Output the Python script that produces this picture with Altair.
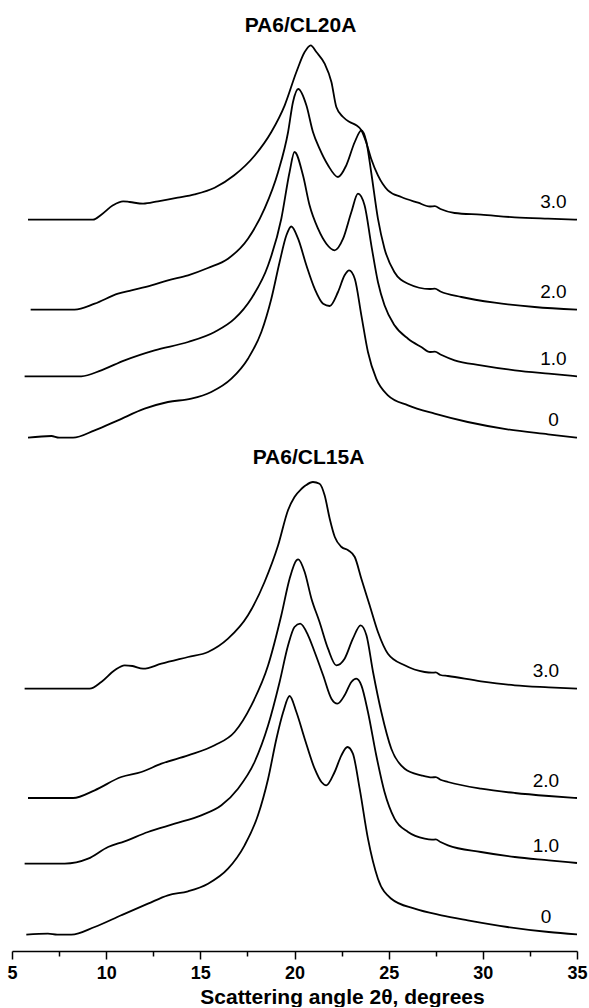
import altair as alt
import pandas as pd

FONT = "Liberation Sans"

# ---------------- PA6/CL20A (upper panel) : intensity, a.u., curves shifted ----------------
cl20a_labels = ["3.0", "2.0", "1.0", "0"]

cl20a_30_x = [5.85, 9.3, 9.74, 10.36, 10.9, 11.25, 11.96, 12.75, 13.8, 14.7, 15.76, 16.8, 17.9, 18.77,
              19.48, 20.1, 20.54, 20.86, 21.16, 21.6, 21.96, 22.22, 22.58, 22.93, 23.28, 23.55, 23.8,
              24.07, 24.43, 24.96, 25.67, 26.56, 27.2, 27.45, 27.75, 28.5, 29.9, 31.7, 33.46, 35.0]
cl20a_30_y = [222.3, 222.3, 227.3, 236.7, 240.7, 240.0, 238.3, 240.7, 244.3, 247.7, 254.3, 266.7, 286.7, 310.0,
              336.7, 370.0, 390.0, 396.7, 390.0, 378.3, 360.0, 335.0, 325.0, 320.0, 316.7, 311.7, 300.0,
              283.3, 266.7, 251.7, 245.0, 239.3, 235.5, 235.8, 233.0, 229.0, 227.3, 224.7, 223.3, 222.3]

cl20a_20_x = [5.99, 8.32, 9.39, 10.63, 11.34, 12.4, 13.28, 14.35, 15.4, 16.47, 17.53, 18.41, 19.13, 19.66,
              19.92, 20.2, 20.63, 20.98, 21.33, 21.78, 22.31, 22.75, 23.2, 23.55, 23.82, 24.07, 24.43,
              24.78, 25.3, 26.03, 27.2, 27.45, 27.75, 28.86, 30.63, 32.75, 35.0]
cl20a_20_y = [132.3, 132.3, 138.3, 148.3, 151.7, 156.7, 161.7, 166.7, 174.0, 183.3, 203.3, 233.3, 270.0, 310.0,
              340.0, 353.0, 336.7, 310.0, 293.3, 276.7, 265.0, 276.7, 300.0, 311.7, 300.0, 270.0, 223.3,
              193.3, 170.0, 158.3, 153.0, 153.3, 150.5, 145.0, 139.3, 135.0, 132.3]

cl20a_10_x = [5.67, 8.68, 9.74, 10.98, 12.57, 14.35, 15.76, 16.82, 17.7, 18.6, 19.3, 19.74, 20.0, 20.45,
              20.8, 21.25, 21.69, 22.13, 22.58, 23.02, 23.37, 23.72, 24.08, 24.43, 24.78, 25.31, 26.03,
              26.73, 27.2, 27.45, 27.75, 28.5, 29.9, 31.7, 33.5, 35.0]
cl20a_10_y = [65.7, 65.7, 71.7, 81.7, 91.7, 100.0, 110.0, 123.3, 143.3, 176.7, 223.3, 270.0, 290.0, 266.7,
              236.7, 213.3, 198.3, 191.7, 203.3, 230.0, 248.3, 236.7, 196.7, 160.0, 136.7, 116.7, 103.3,
              95.0, 90.0, 90.3, 87.5, 81.7, 76.7, 71.7, 68.3, 65.7]

cl20a_00_x = [5.85, 7.09, 7.5, 8.24, 9.39, 10.63, 12.04, 13.28, 14.52, 15.58, 16.65, 17.53, 18.24, 18.77,
              19.21, 19.57, 19.83, 20.19, 20.63, 21.07, 21.52, 21.87, 22.31, 22.66, 22.9, 23.2, 23.55,
              23.9, 24.34, 24.96, 26.03, 27.44, 29.2, 31.3, 33.46, 35.0]
cl20a_00_y = [4.3, 6.0, 4.3, 4.3, 11.7, 21.7, 33.3, 40.0, 43.3, 50.0, 63.3, 83.3, 110.0, 143.3,
              180.0, 206.7, 215.5, 203.3, 176.7, 153.3, 138.3, 136.0, 150.0, 166.7, 171.7, 163.3, 126.7,
              90.0, 63.3, 46.7, 36.7, 28.3, 20.0, 12.7, 7.7, 4.3]

# ---------------- PA6/CL15A (lower panel) ----------------
cl15a_labels = ["3.0", "2.0", "1.0", "0"]

cl15a_30_x = [5.67, 9.12, 9.74, 10.45, 10.98, 11.4, 11.96, 12.93, 14.35, 15.41, 16.47, 17.53, 18.41, 19.13,
              19.66, 20.0, 20.36, 20.6, 20.98, 21.33, 21.6, 21.87, 22.14, 22.5, 22.85, 23.2, 23.55, 23.99,
              24.43, 24.96, 25.85, 26.91, 27.3, 27.5, 27.75, 28.15, 29.9, 31.7, 33.5, 35.0]
cl15a_30_y = [262.3, 262.3, 269.0, 280.7, 285.7, 285.0, 282.3, 287.3, 294.0, 299.0, 312.3, 335.7, 369.0, 405.7,
              441.0, 454.0, 462.0, 465.7, 469.0, 467.3, 455.7, 432.3, 414.0, 404.0, 400.7, 394.0, 372.3, 345.7,
              319.0, 297.3, 285.7, 279.0, 278.3, 278.6, 276.0, 275.0, 269.7, 265.7, 263.7, 262.3]

cl15a_20_x = [5.85, 8.24, 9.39, 10.8, 11.87, 12.93, 14.35, 15.76, 16.82, 17.71, 18.6, 19.3, 19.74, 20.1,
              20.2, 20.54, 20.9, 21.33, 21.78, 22.22, 22.66, 23.1, 23.51, 23.82, 24.17, 24.61, 25.14, 25.85,
              26.73, 27.3, 27.5, 27.75, 28.15, 29.9, 31.7, 33.5, 35.0]
cl15a_20_y = [153.0, 153.0, 160.7, 174.0, 179.0, 187.3, 195.7, 205.7, 219.0, 245.7, 285.7, 335.7, 372.3, 390.7,
              391.7, 379.0, 352.3, 329.0, 302.3, 285.7, 292.3, 312.3, 325.7, 315.7, 279.0, 239.0, 202.3, 182.3,
              175.7, 173.6, 173.9, 171.3, 169.0, 162.3, 158.0, 155.0, 153.0]

cl15a_10_x = [5.67, 7.8, 9.04, 10.1, 10.98, 12.22, 13.64, 15.05, 16.12, 17.0, 17.88, 18.6, 19.21, 19.66,
              20.0, 20.3, 20.72, 21.07, 21.52, 21.96, 22.28, 22.66, 23.02, 23.28, 23.55, 23.9, 24.34, 24.78,
              25.31, 26.03, 26.91, 27.3, 27.5, 27.75, 28.15, 29.9, 31.7, 33.5, 35.0]
cl15a_10_y = [87.3, 87.3, 92.3, 104.0, 109.7, 119.0, 127.3, 135.7, 145.7, 162.3, 189.0, 225.7, 269.0, 305.7,
              324.0, 327.3, 315.7, 299.0, 275.7, 252.3, 247.3, 255.7, 269.0, 272.3, 265.7, 239.0, 195.7, 159.0,
              132.3, 119.0, 112.3, 111.3, 111.6, 109.0, 105.7, 99.0, 94.0, 90.7, 88.0]

cl15a_00_x = [5.76, 6.91, 7.4, 8.15, 9.39, 10.8, 12.22, 13.28, 14.35, 15.41, 16.47, 17.35, 18.06, 18.6,
              19.04, 19.4, 19.74, 20.1, 20.54, 21.07, 21.43, 21.69, 22.13, 22.49, 22.81, 23.1, 23.46, 23.9,
              24.43, 25.14, 26.38, 27.8, 29.2, 31.3, 33.5, 35.0]
cl15a_00_y = [16.3, 17.3, 16.3, 16.3, 24.0, 35.7, 47.3, 55.7, 59.7, 67.3, 82.3, 105.7, 135.7, 172.3,
              212.3, 239.0, 255.0, 239.0, 212.3, 182.3, 169.0, 165.7, 179.0, 195.7, 204.0, 197.3, 162.3, 112.3,
              72.3, 52.3, 42.3, 35.7, 30.7, 24.0, 19.0, 16.7]

tick_values = [5, 7.5, 10, 12.5, 15, 17.5, 20, 22.5, 25, 27.5, 30, 32.5, 35]


def build(labels, xs_list, ys_list):
    rows, lab = [], []
    for name, xs, ys in zip(labels, xs_list, ys_list):
        for a, b in zip(xs, ys):
            rows.append({"curve": name, "angle": a, "intensity": b})
        lab.append({"curve": name, "intensity": ys[-1]})
    return pd.DataFrame(rows), pd.DataFrame(lab)


top_df, top_lab = build(cl20a_labels,
                        [cl20a_30_x, cl20a_20_x, cl20a_10_x, cl20a_00_x],
                        [cl20a_30_y, cl20a_20_y, cl20a_10_y, cl20a_00_y])
bot_df, bot_lab = build(cl15a_labels,
                        [cl15a_30_x, cl15a_20_x, cl15a_10_x, cl15a_00_x],
                        [cl15a_30_y, cl15a_20_y, cl15a_10_y, cl15a_00_y])

W = 565
TOP_H, TOP_MAX = 402, 402
BOT_H, BOT_MAX = 479, 479

major_axis = alt.Axis(
    values=tick_values, orient="bottom", grid=False,
    labelExpr="datum.value % 5 === 0 ? datum.value : ''",
    domain=True, domainColor="black", domainWidth=1.5,
    ticks=True,
    tickSize={"condition": {"test": "datum.value % 5 === 0", "value": 8}, "value": 5},
    tickWidth=1.5, tickColor="black",
    labelFont=FONT, labelFontSize=18, labelFontWeight="bold", labelColor="black",
    labelPadding=5, labelFlush=False, labelOverlap=False,
    title="Scattering angle 2θ, degrees", titleFont=FONT, titleFontSize=21,
    titleFontWeight="bold", titleColor="black", titleX=330, titleY=35,
    titleBaseline="top", titleAlign="center",
)


def panel(df, lab, title, h, ymax, label_x, title_dx, axis):
    xs = alt.Scale(domain=[5, 35], nice=False, zero=False)
    ys = alt.Scale(domain=[0, ymax], nice=False, zero=False)
    lines = alt.Chart(df).mark_line(color="black", strokeWidth=1.8, interpolate="monotone").encode(
        x=alt.X("angle:Q", scale=xs, axis=axis),
        y=alt.Y("intensity:Q", scale=ys, axis=None),
        detail="curve:N",
    )
    texts = alt.Chart(lab).transform_calculate(lx=str(label_x)).mark_text(
        align="center", baseline="alphabetic", dy=-11.5, fontSize=19, font=FONT, color="black"
    ).encode(
        x=alt.X("lx:Q", scale=xs),
        y=alt.Y("intensity:Q", scale=ys),
        text="curve:N",
    )
    return alt.layer(lines, texts).properties(
        width=W, height=h,
        title=alt.TitleParams(title, font=FONT, fontSize=21, fontWeight="bold", color="black",
                              offset=4, dx=title_dx, anchor="middle"),
    )


top = panel(top_df, top_lab, "PA6/CL20A", TOP_H, TOP_MAX, 33.75, 6, None)
bottom = panel(bot_df, bot_lab, "PA6/CL15A", BOT_H, BOT_MAX, 33.35, 14, major_axis)

chart = alt.vconcat(top, bottom, spacing=5).properties(
    padding={"left": 6, "top": 15, "right": 0, "bottom": 0}
).configure(background="white", view=alt.ViewConfig(stroke=None))

chart.save("out.html", embed_options={"renderer": "svg", "actions": False})
